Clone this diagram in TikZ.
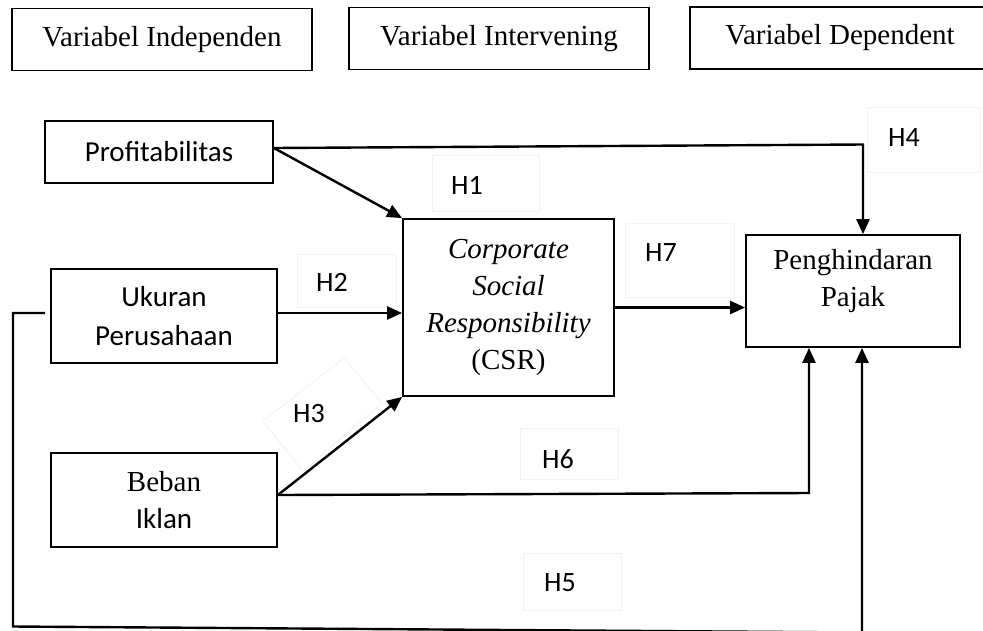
\documentclass[tikz,border=0pt]{standalone}
\usepackage{fontspec}
\setmainfont{Liberation Serif}
\newfontfamily\calfont{Carlito}
\usetikzlibrary{arrows.meta}
\tikzset{
  serif/.style={font=\fontsize{29}{37}\selectfont, align=center},
  sans/.style={font=\calfont\fontsize{29}{39}\selectfont, align=center},
  box/.style={draw, line width=1.8pt, inner sep=0pt},
  topbox/.style={draw, line width=1.4pt, minimum width=300pt, minimum height=62pt, inner sep=0pt, serif},
  faint/.style={draw=black!5, line width=0.8pt},
  hlab/.style={font=\calfont\fontsize{28}{30}\selectfont, inner sep=0pt},
  conn/.style={line width=2.4pt},
  arr/.style={line width=2.4pt, -{Triangle[length=15pt,width=13pt]}}
}
\begin{document}
\begin{tikzpicture}[x=1pt,y=-1pt]
\useasboundingbox (0,0) rectangle (983,630);
\clip (0,0) rectangle (983,630);
\fill[white] (0,0) rectangle (983,630);

% header boxes
\node[topbox] (t1) at (162,39.5) {Variabel Independen};
\node[topbox] (t2) at (499,38.5) {Variabel Intervening};
\node[topbox] (t3) at (840,38) {Variabel Dependent};

% faint label boxes
\draw[faint] (432,155) rectangle (539,211);
\draw[faint] (297,254) rectangle (396,307);
\draw[faint] (867,107) rectangle (980,172);
\draw[faint] (625,223) rectangle (734,297);
\draw[faint] (520,428) rectangle (618,479);
\draw[faint] (523,553) rectangle (621,610);
\draw[faint] (344,358) -- (382,403) -- (303,471) -- (263,421) -- cycle;

% main nodes
\node[box, sans, minimum width=228pt, minimum height=62pt] (prof) at (159,152) {Profitabilitas};
\node[box, sans, minimum width=226pt, minimum height=94pt] (ukur) at (164,316) {Ukuran\\Perusahaan};
\node[box, serif, minimum width=226pt, minimum height=94pt] (beban) at (164,500) {Beban\\{\calfont Iklan}};
\node[box, serif, minimum width=211pt, minimum height=177pt] (csr) at (508.5,307.5) {\textit{Corporate}\\\textit{Social}\\\textit{Responsibility}\\(CSR)};
\node[box, minimum width=214pt, minimum height=112pt] (pp) at (853,291) {};
\node[serif] (pptext) at (853,281.5) {Penghindaran\\Pajak};

% hypothesis labels
\node[hlab] (h1) at (467,185) {H1};
\node[hlab] (h2) at (332,282) {H2};
\node[hlab] (h3) at (309,414) {H3};
\node[hlab] (h4) at (904,138) {H4};
\node[hlab] (h5) at (560,583) {H5};
\node[hlab] (h6) at (558,459) {H6};
\node[hlab] (h7) at (661,253) {H7};

% helper coordinates
\coordinate (c4) at (863,144.5);
\coordinate (c6) at (809,493);
\coordinate (c5a) at (13,313);
\coordinate (c5b) at (13,626.5);
\coordinate (c5c) at (862,632.5);

% connectors
\draw[arr] ([yshift=4pt]prof.east) -- (csr.north west);
\draw[arr] ([yshift=4pt]prof.east) -- (c4) -- (c4 |- pp.north);
\draw[arr] ([yshift=3pt]ukur.east) -- ([yshift=3pt]ukur.east -| csr.west);
\draw[arr] ([yshift=5pt]beban.east) -- (csr.south west);
\draw[arr] (csr.east) -- (csr.east -| pp.west);
\draw[arr] ([yshift=5pt]beban.east) -- (c6) -- (c6 |- pp.south);
\draw[arr] ([xshift=-5pt,yshift=3pt]ukur.west) -- (c5a) -- (c5b) -- (c5c) -- (c5c |- pp.south);
\end{tikzpicture}
\end{document}
